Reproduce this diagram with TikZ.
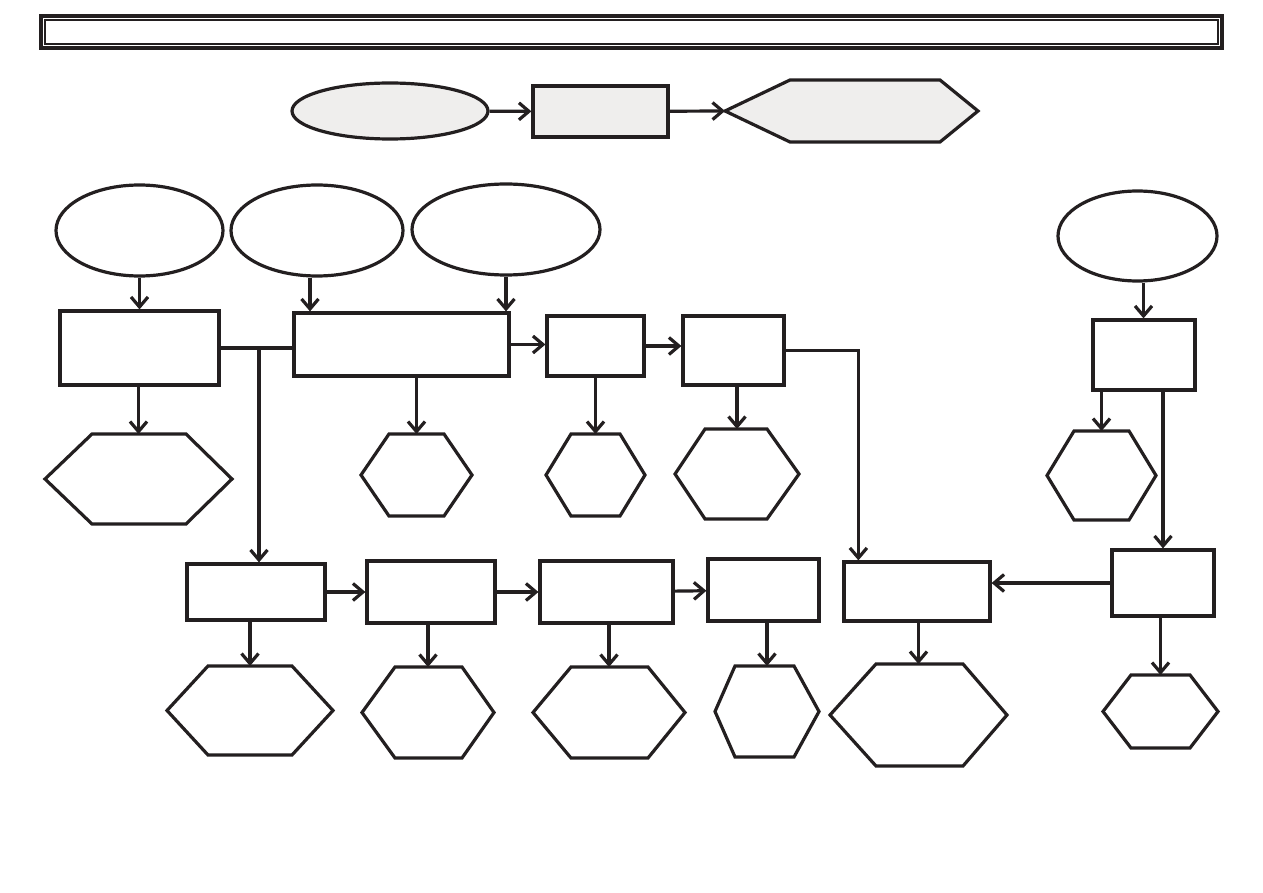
\documentclass[tikz,border=0pt]{standalone}
\usepackage{xcolor}
\definecolor{ink}{HTML}{231F20}
\definecolor{shade}{HTML}{EFEEED}
\usepackage{tikz}
\usetikzlibrary{positioning,calc,arrows.meta,shapes.geometric}

\begin{document}
\begin{tikzpicture}[x=1pt,y=-1pt,line width=3.2pt,color=ink,
  kasten/.style 2 args={draw=ink,inner sep=0pt,minimum width=#1pt,minimum height=#2pt},
  oval/.style 2 args={kasten={#1}{#2},ellipse},
  sechs/.style 2 args={inner sep=0pt,outer sep=0pt,minimum width=#1pt,minimum height=#2pt},
  pfeil/.style={-{Straight Barb[length=10pt,width=17pt]}}]
  \useasboundingbox (0,0) rectangle (1263,893);
  % Kopfleiste
  \draw[line width=3.6pt] (41,16) rectangle (1222,48);
  \draw[line width=1.8pt] (45,20) rectangle (1218,44);
  % Legende
  \node[oval={196}{56},fill=shade] (e0) at (390,111) {};
  \node[kasten={135}{51},fill=shade] (r0) at (600.5,111.5) {};
  \node[sechs={253}{62}] (t0) at (851.5,111) {};
  % obere Reihe
  \node[oval={167}{91}] (e1) at (139.5,230.5) {};
  \node[oval={172}{91}] (e2) at (317,230.5) {};
  \node[oval={188}{91}] (e3) at (506,229.5) {};
  \node[oval={159}{90}] (e4) at (1137.5,236) {};
  \node[kasten={159}{74}] (b1) at (139.5,348) {};
  \node[kasten={215}{63}] (b2) at (401.5,344.5) {};
  \node[kasten={97}{60}] (b3) at (595.5,346) {};
  \node[kasten={101}{69}] (b4) at (733.5,350.5) {};
  \node[kasten={102}{70}] (b5) at (1144,355) {};
  \node[sechs={187}{90}] (h1) at (138.5,479) {};
  \node[sechs={111}{82}] (h2) at (416.5,475) {};
  \node[sechs={99}{82}] (h3) at (595.5,475) {};
  \node[sechs={124}{90}] (h4) at (737,474) {};
  \node[sechs={109}{89}] (h5) at (1101.5,475.5) {};
  % untere Reihe
  \node[kasten={138}{56}] (c1) at (256,592) {};
  \node[kasten={128}{62}] (c2) at (431,592) {};
  \node[kasten={133}{62}] (c3) at (606.5,592) {};
  \node[kasten={111}{62}] (c4) at (763.5,590) {};
  \node[kasten={146}{59}] (c5) at (917,591.5) {};
  \node[kasten={102}{66}] (c6) at (1163,583) {};
  \node[sechs={166}{89}] (g1) at (250,710.5) {};
  \node[sechs={132}{91}] (g2) at (428,712.5) {};
  \node[sechs={152}{91}] (g3) at (609,712.5) {};
  \node[sechs={104}{91}] (g4) at (767,711.5) {};
  \node[sechs={177}{102}] (g5) at (918.5,715) {};
  \node[sechs={115}{73}] (g6) at (1160.5,711.5) {};
  \foreach \h/\dl/\dr/\f in {t0/65/38/shade,h1/47/46/white,h2/28/28/white,h3/25/25/white,
      h4/30/32/white,h5/27/27/white,g1/41/41/white,g2/33/32/white,g3/38/37/white,
      g4/20/25/white,g5/46/44/white,g6/28/28/white}
    \draw[fill=\f] (\h.west) -- ([xshift=\dl pt]\h.north west) -- ([xshift=-\dr pt]\h.north east)
      -- (\h.east) -- ([xshift=-\dr pt]\h.south east) -- ([xshift=\dl pt]\h.south west) -- cycle;
  % Verbindungen
  \draw[pfeil] (e0) -- (r0);
  \draw[pfeil] (r0) -- (t0.west);
  \draw[pfeil] (e1.south) -- (e1.south |- b1.north);
  \draw[pfeil] ([xshift=-7pt]e2.south) -- ([xshift=-7pt]e2.south |- b2.north);
  \draw[pfeil] (e3.south) -- (e3.south |- b2.north);
  \draw[pfeil] ([xshift=6pt]e4.south) -- ([xshift=6pt]e4.south |- b5.north);
  \draw (b1.east) -- (b1.east -| b2.west);
  \coordinate (j) at (259,348);
  \draw[pfeil] (j) -- (j |- c1.north);
  \draw[pfeil] (b2.east) -- (b2.east -| b3.west);
  \draw[pfeil] (b3.east) -- (b3.east -| b4.west);
  \draw[pfeil] (b4.east) -| ([xshift=16pt]c5.north west);
  \draw[pfeil] (c6.north |- b5.south) -- (c6.north);
  \draw[pfeil] (c6.west) -- (c6.west -| c5.east);
  \foreach \a/\b in {c1/c2,c2/c3,c3/c4} \draw[pfeil] (\a) -- (\b);
  \foreach \a/\b in {b1/h1,b2/h2,b3/h3,b4/h4,b5/h5,c1/g1,c2/g2,c3/g3,c4/g4,c5/g5,c6/g6}
    \draw[pfeil] (\b.north |- \a.south) -- (\b.north);
\end{tikzpicture}
\end{document}
